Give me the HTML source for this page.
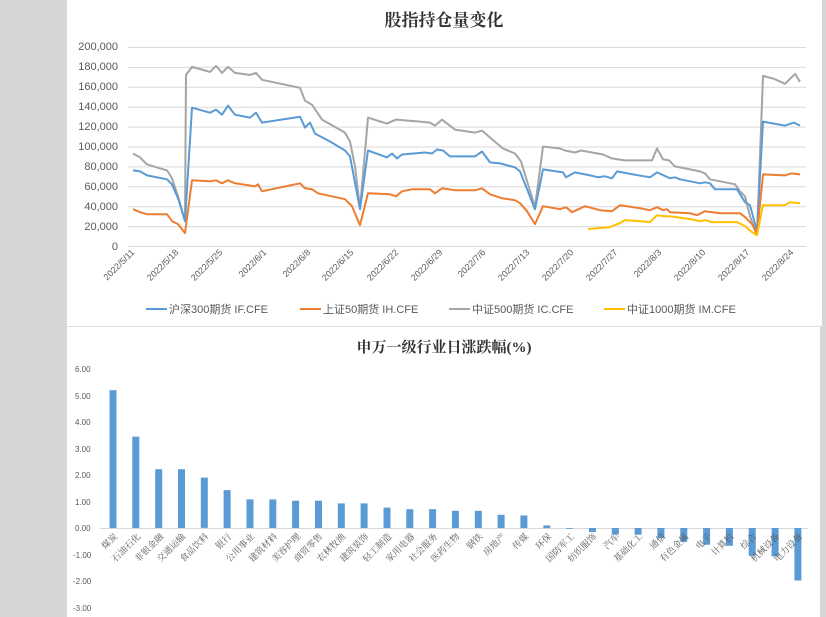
<!DOCTYPE html>
<html><head><meta charset="utf-8">
<style>
html,body{margin:0;padding:0;width:826px;height:617px;overflow:hidden;background:#d6d6d6;}
svg{display:block;}
</style></head>
<body>
<svg id="s" width="826" height="617" xmlns="http://www.w3.org/2000/svg" font-family="'Liberation Sans','Noto Sans CJK SC',sans-serif">
<rect x="67" y="0" width="755" height="326" fill="#fff"/>
<rect x="67" y="327" width="753" height="290" fill="#fff"/>
<line x1="67" y1="326.5" x2="822" y2="326.5" stroke="#e0e0e0"/>
<text x="444" y="26" text-anchor="middle" font-size="17" font-weight="bold" fill="#333" font-family="'Liberation Serif','Noto Serif CJK SC',serif">股指持仓量变化</text>
<g id="grid" stroke="#d9d9d9" stroke-width="1"></g>
<g font-size="11" fill="#595959" text-anchor="end">
<text x="118" y="50">200,000</text><text x="118" y="70">180,000</text><text x="118" y="90">160,000</text><text x="118" y="110">140,000</text><text x="118" y="130">120,000</text><text x="118" y="150">100,000</text><text x="118" y="170">80,000</text><text x="118" y="190">60,000</text><text x="118" y="210">40,000</text><text x="118" y="230">20,000</text><text x="118" y="250">0</text>
</g>
<g font-size="9" fill="#595959" text-anchor="end">
<text transform="translate(135,253) rotate(-45)">2022/5/11</text>
<text transform="translate(179,253) rotate(-45)">2022/5/18</text>
<text transform="translate(223,253) rotate(-45)">2022/5/25</text>
<text transform="translate(267,253) rotate(-45)">2022/6/1</text>
<text transform="translate(311,253) rotate(-45)">2022/6/8</text>
<text transform="translate(354,253) rotate(-45)">2022/6/15</text>
<text transform="translate(399,253) rotate(-45)">2022/6/22</text>
<text transform="translate(443,253) rotate(-45)">2022/6/29</text>
<text transform="translate(486,253) rotate(-45)">2022/7/6</text>
<text transform="translate(530,253) rotate(-45)">2022/7/13</text>
<text transform="translate(574,253) rotate(-45)">2022/7/20</text>
<text transform="translate(618,253) rotate(-45)">2022/7/27</text>
<text transform="translate(662,253) rotate(-45)">2022/8/3</text>
<text transform="translate(706,253) rotate(-45)">2022/8/10</text>
<text transform="translate(750,253) rotate(-45)">2022/8/17</text>
<text transform="translate(794,253) rotate(-45)">2022/8/24</text>
</g>
<g id="lines" fill="none" stroke-width="2" stroke-linejoin="round"></g>
<g font-size="11" fill="#595959">
<line x1="146" y1="309" x2="167" y2="309" stroke="#5b9bd5" stroke-width="2"/><text x="169" y="313">沪深300期货 IF.CFE</text>
<line x1="300" y1="309" x2="321" y2="309" stroke="#ed7d31" stroke-width="2"/><text x="323" y="313">上证50期货 IH.CFE</text>
<line x1="449" y1="309" x2="470" y2="309" stroke="#a5a5a5" stroke-width="2"/><text x="472" y="313">中证500期货 IC.CFE</text>
<line x1="604" y1="309" x2="625" y2="309" stroke="#ffc000" stroke-width="2"/><text x="627" y="313">中证1000期货 IM.CFE</text>
</g>
<text x="444" y="352" text-anchor="middle" font-size="15" font-weight="bold" fill="#333" font-family="'Liberation Serif','Noto Serif CJK SC',serif">申万一级行业日涨跌幅(%)</text>
<g font-size="8" fill="#595959">
<text x="75" y="372">6.00</text><text x="75" y="399">5.00</text><text x="75" y="425">4.00</text><text x="75" y="452">3.00</text><text x="75" y="478">2.00</text><text x="75" y="505">1.00</text><text x="75" y="531">0.00</text><text x="73" y="558">-1.00</text><text x="73" y="584">-2.00</text><text x="73" y="611">-3.00</text>
</g>
<line x1="100" y1="528.5" x2="808" y2="528.5" stroke="#d9d9d9"/>
<g id="bars" fill="#5b9bd5"></g>
<g font-size="9" fill="#595959" text-anchor="end" font-family="'Liberation Serif','Noto Serif CJK SC',serif">
<text transform="translate(118,537) rotate(-45)">煤炭</text>
<text transform="translate(141,537) rotate(-45)">石油石化</text>
<text transform="translate(164,537) rotate(-45)">非银金融</text>
<text transform="translate(186,537) rotate(-45)">交通运输</text>
<text transform="translate(209,537) rotate(-45)">食品饮料</text>
<text transform="translate(232,537) rotate(-45)">银行</text>
<text transform="translate(255,537) rotate(-45)">公用事业</text>
<text transform="translate(278,537) rotate(-45)">建筑材料</text>
<text transform="translate(301,537) rotate(-45)">美容护理</text>
<text transform="translate(323,537) rotate(-45)">商贸零售</text>
<text transform="translate(346,537) rotate(-45)">农林牧渔</text>
<text transform="translate(369,537) rotate(-45)">建筑装饰</text>
<text transform="translate(392,537) rotate(-45)">轻工制造</text>
<text transform="translate(415,537) rotate(-45)">家用电器</text>
<text transform="translate(438,537) rotate(-45)">社会服务</text>
<text transform="translate(460,537) rotate(-45)">医药生物</text>
<text transform="translate(483,537) rotate(-45)">钢铁</text>
<text transform="translate(506,537) rotate(-45)">房地产</text>
<text transform="translate(529,537) rotate(-45)">传媒</text>
<text transform="translate(552,537) rotate(-45)">环保</text>
<text transform="translate(575,537) rotate(-45)">国防军工</text>
<text transform="translate(597,537) rotate(-45)">纺织服饰</text>
<text transform="translate(620,537) rotate(-45)">汽车</text>
<text transform="translate(643,537) rotate(-45)">基础化工</text>
<text transform="translate(666,537) rotate(-45)">通信</text>
<text transform="translate(689,537) rotate(-45)">有色金属</text>
<text transform="translate(712,537) rotate(-45)">电子</text>
<text transform="translate(734,537) rotate(-45)">计算机</text>
<text transform="translate(757,537) rotate(-45)">综合</text>
<text transform="translate(780,537) rotate(-45)">机械设备</text>
<text transform="translate(803,537) rotate(-45)">电力设备</text>
</g>
</svg>
<script>
var NS="http://www.w3.org/2000/svg";
function el(p,t,a){var e=document.createElementNS(NS,t);for(var k in a)e.setAttribute(k,a[k]);p.appendChild(e);}
var g=document.getElementById("grid");
for(var i=0;i<=10;i++){var y=246-i*19.9+0.5;el(g,"line",{x1:128,y1:y,x2:806,y2:y});}
function Y(v){return 246-v*0.995;}
var S={
"#a5a5a5":[133,93,140,89,147,82,157,79,167,76,172,68,178,50,185,25,186,172,192,180,210,175,216,181,222,174,228,180,235,174,250,172,256,174,262,167,300,159,305,146,312,142,322,127,345,114,350,105,355,80,360,38,368,129,387,123,396,127,420,125,430,124,435,121,442,127,455,117,475,114,482,116,497,103,503,98,515,93,521,85,535,39,543,100,560,98,565,96,575,94,581,96,603,92,612,88,618,87,625,86,652,86,657,98,663,87,669,86,675,80,700,75,705,73,710,67,735,62,740,55,745,50,750,30,757,11,763,171,774,168,785,163,795,173,800,165],
"#5b9bd5":[133,76,140,75,147,71,167,67,172,62,178,48,185,25,192,139,210,134,216,137,222,132,228,141,235,132,250,129,256,134,262,124,300,130,305,119,310,124,315,113,330,105,345,96,350,90,360,37,368,96,387,89,392,93,397,88,402,92,425,94,432,93,437,97,443,96,450,90,475,90,482,95,490,84,500,83,515,79,520,75,535,37,543,77,563,74,566,69,575,74,590,71,598,69,605,70,612,68,617,75,633,72,650,69,657,74,670,68,675,69,680,67,700,63,705,64,710,63,715,57,737,57,745,44,750,41,757,15,763,125,785,121,794,124,800,121],
"#ed7d31":[133,37,140,34,147,32,167,32,172,25,178,22,185,13,192,66,210,65,216,66,222,63,228,66,235,63,255,60,258,62,262,55,300,63,305,58,312,57,318,53,345,47,352,40,357,28,360,21,368,53,390,52,396,50,402,55,412,57,430,57,435,53,442,58,455,56,475,56,482,58,490,52,502,48,515,46,520,43,527,35,535,22,543,40,560,37,566,39,572,34,585,40,600,36,612,35,620,41,640,38,650,36,657,39,663,36,667,37,670,34,690,33,697,31,705,35,720,33,740,33,745,29,752,22,757,12,763,72,785,71,791,73,800,72],
"#ffc000":[588,17,610,19,620,23,625,26,640,25,650,24,657,31,665,30,670,30,690,27,700,25,705,26,712,24,737,24,745,20,752,14,757,11,763,41,785,41,790,44,800,43]};
var L=document.getElementById("lines");
["#a5a5a5","#5b9bd5","#ed7d31","#ffc000"].forEach(function(c){var d=S[c],p=[];for(var i=0;i<d.length;i+=2)p.push(d[i]+","+Y(d[i+1]).toFixed(1));el(L,"polyline",{points:p.join(" "),stroke:c});});
var V=[5.2,3.45,2.22,2.22,1.9,1.43,1.08,1.08,1.03,1.03,0.93,0.93,0.77,0.71,0.71,0.65,0.65,0.5,0.47,0.1,-0.03,-0.15,-0.25,-0.25,-0.39,-0.52,-0.63,-0.67,-1.05,-1.07,-1.98];
var B=document.getElementById("bars");
V.forEach(function(v,i){var cx=113+i*22.83,h=Math.abs(v)*26.5;el(B,"rect",{x:(cx-3.5).toFixed(1),y:(v>0?528-h:528).toFixed(1),width:7,height:h.toFixed(1)});});
</script>
</body></html>
